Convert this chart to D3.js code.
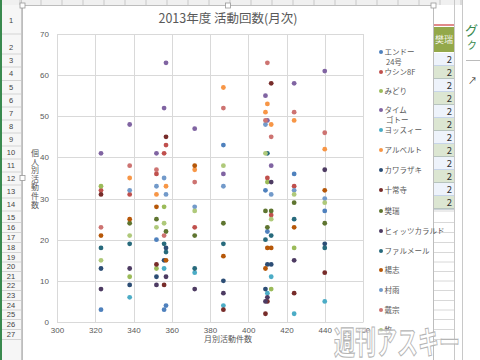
<!DOCTYPE html>
<html><head><meta charset="utf-8">
<script src="https://cdn.jsdelivr.net/npm/d3@7"></script>
<style>
html,body{margin:0;padding:0;background:#fff;overflow:hidden}
svg{display:block;font-family:"Noto Sans CJK JP","Noto Sans",sans-serif}
</style></head>
<body>
<script>
// ---- data ----
const title = "2013年度 活動回数(月次)";
const yTitle = "個人別活動件数";
const xTitle = "月別活動件数";
const xTicks = [300,320,340,360,380,400,420,440,460];
const yTicks = [0,10,20,30,40,50,60,70];
// monthly totals (x) for the 12 months
const months = [323,338,352,356,357,372,387,409,410,412,424,440];
const names = ["エンドー\n24号","ウシン8F","みどり","タイム\nゴトー","ヨッスィー","アルベルト","カワラザキ","十常寺","樊瑞","ヒィッツカラルド","ファルメール","楊志","村雨","戴宗","牧"];
const colors = ["#4F81BD","#C0504D","#9BBB59","#8064A2","#4BACC6","#F79646","#2C4D75","#772C2A","#5F7530","#4D3B62","#276A7C","#B65708","#729ACA","#CD7371","#AFC97A"];
const s0  = [3,null,20,3,4,null,43,32,22,null,36,27];
const s1  = [32,31,36,41,43,23,null,null,35,26,33,null];
const s2  = [33,11,13,28,null,null,null,null,34,8,18,null];
const s3  = [41,48,41,52,63,47,36,55,49,38,58,61];
const s4  = [null,6,null,13,null,12,4,null,7,11,2,5];
const s5  = [null,35,31,null,33,37,57,51,53,48,49,42];
const s6  = [13,9,11,15,18,null,10,8,14,14,null,19];
const s7  = [31,null,14,9,45,null,3,2,5,58,7,12];
const s8  = [null,24,25,null,22,21,24,27,23,27,29,24];
const s9  = [8,13,9,null,11,8,7,5,6,34,15,37];
const s10 = [18,19,null,19,17,13,19,20,41,21,25,18];
const s11 = [21,25,28,null,15,38,16,13,18,18,23,32];
const s12 = [null,32,33,35,31,28,33,48,null,31,32,30];
const s13 = [23,38,37,21,null,34,52,49,63,45,51,46];
const s14 = [15,21,23,24,null,27,38,41,null,25,31,29];
const seriesValues = [s0,s1,s2,s3,s4,s5,s6,s7,s8,s9,s10,s11,s12,s13,s14];
// spreadsheet side: row numbers and cell values
const rowNums = ["1","2","3","4","5","6","7","8","9","10","11","12","13","14","15","16","17","18","19","20","21","22","23","24","25","26","27"];
const rowY = [20,47,60,73,87,100,113,126,139,152,165,178,191,204,217,227,237,247,257,266,276,285,295,305,314,324,334];
const cellVals = ["2","2","2","2","2","2","2","2","2","2","2","2"];

const W=480,H=360;
const svg=d3.select("body").append("svg").attr("width",W).attr("height",H);

// ---- spreadsheet background ----
svg.append("rect").attr("x",0).attr("y",0).attr("width",W).attr("height",H).attr("fill","#fff");
svg.append("rect").attr("x",0).attr("y",0).attr("width",462).attr("height",5).attr("fill","#f0f0f0");
for(let x=20;x<462;x+=21){svg.append("line").attr("x1",x).attr("x2",x).attr("y1",0).attr("y2",5).attr("stroke","#c8c8c8");}
svg.append("rect").attr("x",0).attr("y",5).attr("width",21).attr("height",H).attr("fill","#f6f6f6");
svg.append("rect").attr("x",0).attr("y",0).attr("width",2).attr("height",H).attr("fill","#3a8a4f");
svg.append("line").attr("x1",21.5).attr("x2",21.5).attr("y1",0).attr("y2",H).attr("stroke","#c8c8c8");
const rowG=svg.append("g");
rowNums.forEach((t,i)=>{
  rowG.append("text").attr("x",11).attr("y",rowY[i]+3).attr("text-anchor","middle")
    .attr("font-size",7.5).attr("fill","#444").attr("font-family","Liberation Sans, Arial, sans-serif").text(t);
  const b = i<rowNums.length-1 ? (rowY[i]+rowY[i+1])/2 : rowY[i]+5;
  rowG.append("line").attr("x1",2).attr("x2",21).attr("y1",b+0.5).attr("y2",b+0.5).attr("stroke","#d4d4d4");
});

// right cells
const cx0=434,cx1=454;
rowY.forEach((y,i)=>{
  if(i<2) return;
  const b=(i<rowY.length-1)?(y+rowY[i+1])/2:y+5;
  svg.append("line").attr("x1",cx0).attr("x2",cx1).attr("y1",b+0.5).attr("y2",b+0.5).attr("stroke","#d8d8d8");
});
svg.append("rect").attr("x",cx0).attr("y",24).attr("width",cx1-cx0).attr("height",2).attr("fill","#e08a8a");
svg.append("rect").attr("x",cx0).attr("y",27).attr("width",cx1-cx0).attr("height",25).attr("fill","#93a84a");
svg.append("text").attr("x",453).attr("y",43).attr("text-anchor","end").attr("font-size",9).attr("fill","#f4f4e8").text("樊瑞");
cellVals.forEach((v,i)=>{
  const top=53+i*13;
  svg.append("rect").attr("x",cx0).attr("y",top).attr("width",cx1-cx0).attr("height",13)
    .attr("fill",i%2===0?"#eef3fb":"#dce6d2");
  svg.append("line").attr("x1",cx0).attr("x2",cx1).attr("y1",top+13).attr("y2",top+13).attr("stroke",i%2===0?"#8aa6cf":"#7f8f9f").attr("stroke-width",0.8);
  svg.append("text").attr("x",452).attr("y",top+10).attr("text-anchor","end").attr("font-size",9.5).attr("fill","#333").text(v);
});
svg.append("line").attr("x1",cx1+0.5).attr("x2",cx1+0.5).attr("y1",0).attr("y2",H).attr("stroke","#c8c8c8");
svg.append("line").attr("x1",462.5).attr("x2",462.5).attr("y1",0).attr("y2",H).attr("stroke","#c8c8c8");
// task pane
svg.append("text").attr("x",465).attr("y",35).attr("font-size",13).attr("fill","#3a8a4f").text("グ");
svg.append("text").attr("x",467).attr("y",49).attr("font-size",10).attr("fill","#3a8a4f").text("ク");
svg.append("line").attr("x1",466).attr("x2",480).attr("y1",60.5).attr("y2",60.5).attr("stroke","#bbb");
svg.append("text").attr("x",468).attr("y",84).attr("font-size",9).attr("fill","#333").text("↗");

// ---- chart area ----
svg.append("rect").attr("x",22.5).attr("y",5.5).attr("width",411).attr("height",H).attr("fill","#fff").attr("stroke","#bdbdbd");
[[22.5,5.5],[228,5.5],[433.5,5.5],[22.5,178]].forEach(p=>{
  svg.append("rect").attr("x",p[0]-2.5).attr("y",p[1]-2.5).attr("width",5).attr("height",5)
    .attr("fill","#fff").attr("stroke","#999").attr("stroke-width",0.8);
});

const x=d3.scaleLinear().domain([300,460]).range([57,363]);
const y=d3.scaleLinear().domain([0,70]).range([322,34]);

const grid=svg.append("g");
grid.selectAll(".gx").data(xTicks).join("line")
  .attr("x1",d=>Math.round(x(d))+0.5).attr("x2",d=>Math.round(x(d))+0.5)
  .attr("y1",y(70)).attr("y2",y(0)).attr("stroke","#d9d9d9");
grid.selectAll(".gy").data(yTicks).join("line")
  .attr("x1",x(300)).attr("x2",x(460))
  .attr("y1",d=>Math.round(y(d))+0.5).attr("y2",d=>Math.round(y(d))+0.5).attr("stroke","#d9d9d9");

const xAxis=svg.append("g").attr("transform",`translate(0,${y(0)})`)
  .call(d3.axisBottom(x).tickValues(xTicks).tickSize(0).tickPadding(5));
xAxis.select(".domain").attr("stroke","#d9d9d9");
xAxis.selectAll("text").attr("font-size",8).attr("fill","#595959").attr("font-family","Liberation Sans, Arial, sans-serif");
const yAxis=svg.append("g").attr("transform",`translate(${x(300)},0)`)
  .call(d3.axisLeft(y).tickValues(yTicks).tickSize(0).tickPadding(8));
yAxis.select(".domain").attr("stroke","#d9d9d9");
yAxis.selectAll("text").attr("font-size",8).attr("fill","#595959").attr("font-family","Liberation Sans, Arial, sans-serif");

svg.append("text").attr("x",228).attr("y",23).attr("text-anchor","middle")
  .attr("font-size",12.5).attr("fill","#595959").text(title);
svg.append("text").attr("x",228).attr("y",342).attr("text-anchor","middle")
  .attr("font-size",8).attr("fill","#595959").text(xTitle);
const ytG=svg.append("g");
Array.from(yTitle).forEach((c,i)=>{
  ytG.append("text").attr("x",35).attr("y",156+i*8.6).attr("text-anchor","middle")
    .attr("font-size",8).attr("fill","#595959").text(c);
});

const pts=svg.append("g");
seriesValues.forEach((vals,si)=>{
  pts.selectAll(null).data(vals.map((v,i)=>({x:months[i],y:v})).filter(d=>d.y!==null))
    .join("circle")
    .attr("cx",d=>x(d.x)).attr("cy",d=>y(d.y)).attr("r",2.4)
    .attr("fill",colors[si]);
});

const legY=[52,72,91,110,130,150,170,190,211,231,251,270,290,310,330];
const leg=svg.append("g");
names.forEach((n,i)=>{
  leg.append("circle").attr("cx",381).attr("cy",legY[i]).attr("r",2).attr("fill",colors[i]);
  n.split("\n").forEach((l,j)=>{
    leg.append("text").attr("x",j===0?384.5:386).attr("y",legY[i]+3+j*10)
      .attr("font-size",7.5).attr("fill","#595959").text(l);
  });
});

// watermark
svg.append("text").attr("x",334).attr("y",354).attr("font-size",32).attr("font-weight","bold")
  .attr("textLength",126).attr("lengthAdjust","spacingAndGlyphs")
  .attr("fill","#ffffff").attr("fill-opacity",0.7).attr("stroke","#b5b5b5").attr("stroke-width",1.1)
  .text("週刊アスキー");
</script>
</body></html>
